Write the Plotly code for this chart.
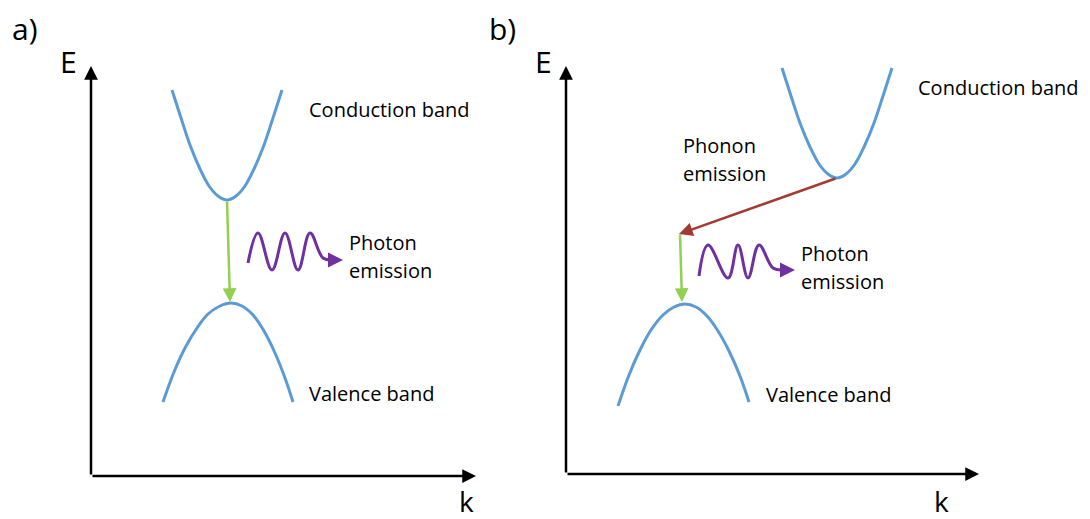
import plotly.graph_objects as go

# ---- data (pixel-space schematic) ----
cond_a_x = [172, 181, 190, 200, 209, 218, 227, 236, 245, 254, 264, 273, 282]
cond_a_y = [90, 118, 145, 169, 186, 196, 200, 196, 186, 169, 145, 118, 90]
val_a_x = [163, 174, 185, 197, 208, 220, 231, 242, 253, 264, 275, 285, 293]
val_a_y = [402, 372, 348, 328, 314, 306, 303, 306, 315, 331, 353, 378, 402]
cond_b_x = [782, 791, 800, 810, 819, 828, 837, 846, 855, 864, 874, 883, 892]
cond_b_y = [68, 96, 123, 147, 164, 174, 178, 174, 164, 147, 123, 96, 68]
val_b_x = [618, 629, 640, 651, 663, 674, 685, 696, 707, 718, 729, 740, 749]
val_b_y = [406, 375, 350, 330, 315, 307, 304, 307, 316, 331, 351, 376, 402]

wave_a_x = [248, 258, 272, 285, 298, 310, 323, 333]
wave_a_y = [263, 233, 270, 233, 270, 233, 258, 260]
wave_b_x = [699, 708, 728, 738, 748, 759, 773, 783]
wave_b_y = [276, 245, 278, 245, 278, 245, 268, 270]

# arrows: (tail_x, tail_y, head_x, head_y)
axes_arrows = [(91, 476, 91, 66), (91, 476, 476, 476),
               (566, 474, 566, 66), (566, 474, 979, 474)]
green_arrows = [(227, 200, 230, 302), (680, 233, 682, 302)]
red_arrows = [(837, 178, 679, 234)]
purple_arrows = [(328, 260, 343, 260), (779, 270, 795, 270)]

labels = [
    ("a)", 10, 28, 30), ("b)", 487, 28, 30),
    ("E", 58, 61, 30), ("E", 533, 61, 30),
    ("k", 457, 501, 28), ("k", 932, 501, 28),
    ("Conduction band", 307, 109, 20), ("Valence band", 307, 393, 20),
    ("Photon", 347, 242, 20), ("emission", 347, 270, 20),
    ("Conduction band", 916, 87, 20), ("Valence band", 764, 394, 20),
    ("Phonon", 681, 145, 20), ("emission", 681, 173, 20),
    ("Photon", 799, 253, 20), ("emission", 799, 281, 20),
]

BLUE = "#5B9BD5"
GREEN = "#92D050"
RED = "#A33B32"
PURPLE = "#7030A0"
FONT = "Open Sans"

fig = go.Figure()
for xs, ys in [(cond_a_x, cond_a_y), (val_a_x, val_a_y),
               (cond_b_x, cond_b_y), (val_b_x, val_b_y)]:
    fig.add_trace(go.Scatter(x=xs, y=ys, mode="lines",
                             line=dict(color=BLUE, width=3, shape="spline", smoothing=1.0),
                             hoverinfo="skip", showlegend=False))
for xs, ys in [(wave_a_x, wave_a_y), (wave_b_x, wave_b_y)]:
    fig.add_trace(go.Scatter(x=xs, y=ys, mode="lines",
                             line=dict(color=PURPLE, width=3, shape="spline", smoothing=1.1),
                             hoverinfo="skip", showlegend=False))

annotations = []
def add_arrow(a, color, width, size):
    tx, ty, hx, hy = a
    annotations.append(dict(x=hx, y=hy, ax=tx, ay=ty, xref="x", yref="y",
                            axref="x", ayref="y", showarrow=True, arrowhead=2,
                            arrowsize=size, arrowwidth=width, arrowcolor=color,
                            standoff=0, startstandoff=0, text=""))

for a in axes_arrows:
    add_arrow(a, "black", 2.5, 1.1)
for a in green_arrows:
    add_arrow(a, GREEN, 2.5, 1.1)
for a in red_arrows:
    add_arrow(a, RED, 2.5, 1.1)
for a in purple_arrows:
    add_arrow(a, PURPLE, 3, 1.0)

for text, x, y, size in labels:
    annotations.append(dict(x=x, y=y, xref="x", yref="y", text=text, showarrow=False,
                            xanchor="left", yanchor="middle",
                            font=dict(family=FONT, size=size, color="black")))

fig.update_layout(
    width=1090, height=519, margin=dict(l=0, r=0, t=0, b=0),
    paper_bgcolor="white", plot_bgcolor="white",
    xaxis=dict(range=[0, 1090], visible=False, fixedrange=True),
    yaxis=dict(range=[519, 0], visible=False, fixedrange=True),
    annotations=annotations, showlegend=False,
)
fig.write_html("out.html")
